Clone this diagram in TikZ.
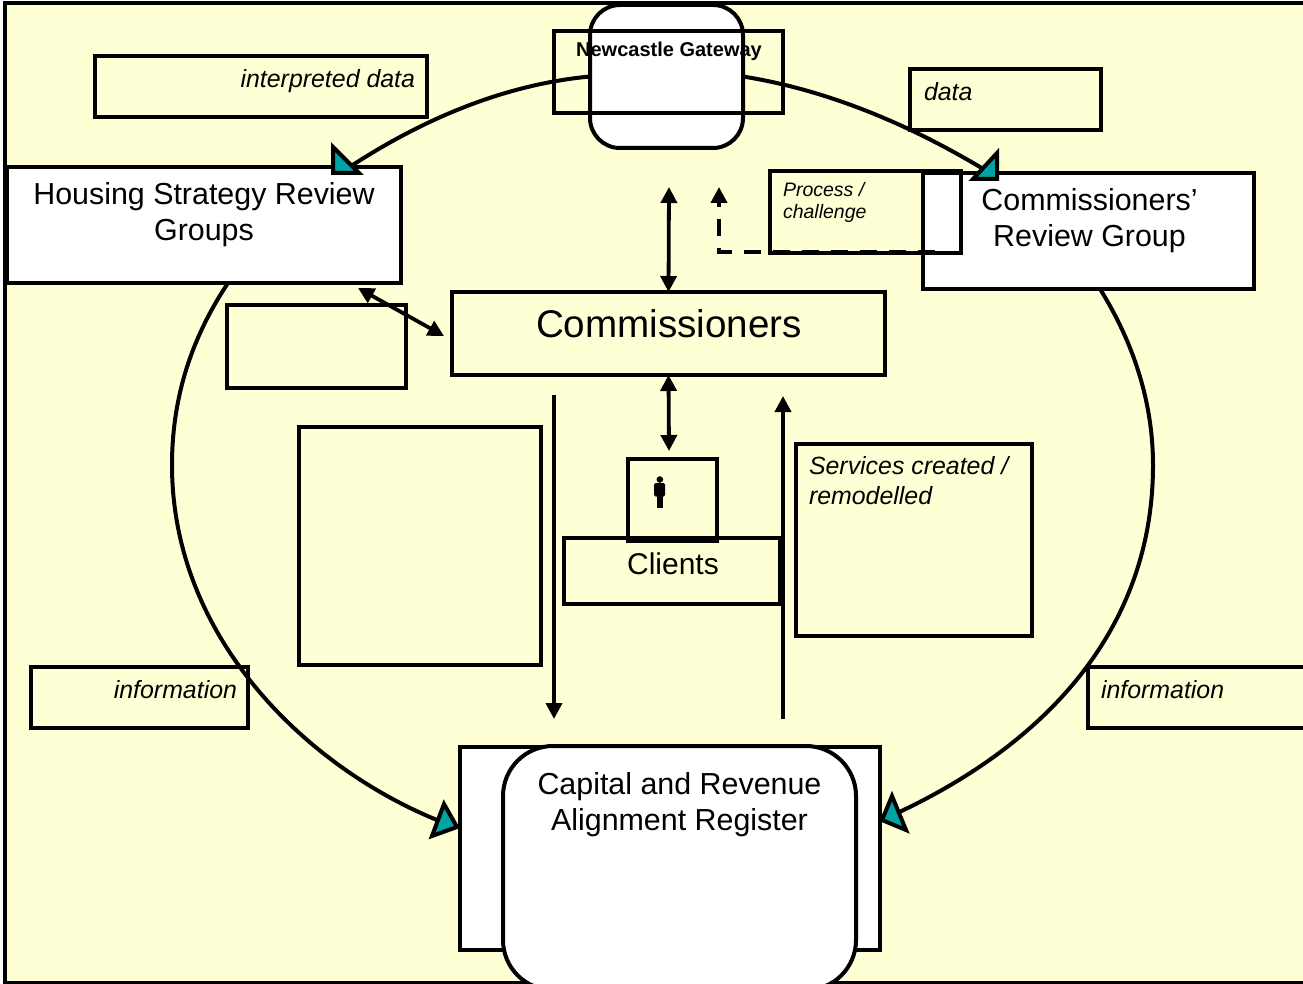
\documentclass[tikz,border=0pt]{standalone}
\usepackage{fontspec}
\setmainfont{Liberation Sans}
\usetikzlibrary{arrows.meta}
\definecolor{paper}{HTML}{FFFFD5}
\definecolor{tealfill}{HTML}{00A3A3}
\newcommand\bx[6]{%
  \pgfmathsetmacro\bw{#5-#3}\pgfmathsetmacro\bh{#6-#4}%
  \pgfmathsetmacro\cx{(#3+#5)/2}\pgfmathsetmacro\cy{(#4+#6)/2}%
  \node[boxline,#1,minimum width=\bw pt,minimum height=\bh pt] (#2) at (\cx,\cy) {};}
\tikzset{
  boxline/.style={draw=black,line width=4pt,rectangle,inner sep=0pt,outer sep=0pt},
  whitebox/.style={fill=white},
  roundbox/.style={fill=white,rounded corners=#1},
  lab/.style={inner sep=0pt,outer sep=0pt,text=black},
  big/.style={font=\fontsize{30.4}{36}\selectfont},
  mid/.style={font=\fontsize{24.9}{30}\selectfont\itshape},
  small/.style={font=\fontsize{19.5}{22}\selectfont\itshape},
  curve/.style={draw=black,line width=4pt},
  headtri/.style={draw=black,fill=tealfill,line width=4pt,line join=miter},
  arrowline/.style={draw=black,line width=3.8pt},
  bigtip/.style={-{Triangle[length=16pt,width=16pt]}},
  bothtip/.style={{Triangle[length=16pt,width=16pt]}-{Triangle[length=16pt,width=16pt]}},
}
\begin{document}
\begin{tikzpicture}[x=1pt,y=-1pt]
\useasboundingbox (0,0) rectangle (1303,984);
\bx{fill=paper}{frame}{5}{3}{1320}{983}
% boxes
\bx{}{interp}{95}{56}{427}{117}
\bx{}{databox}{910}{69}{1101}{130}
\bx{roundbox=30pt}{gwround}{590}{5}{743}{148}
\bx{}{gwrect}{554}{31}{783}{113}
\bx{whitebox}{hsrg}{7}{167}{401}{283}
\bx{whitebox}{crg}{923}{173}{1254}{289}
\bx{}{procbox}{770}{171}{961}{253}
\bx{}{comm}{452}{292}{885}{375}
\bx{}{emptya}{227}{305}{406}{388}
\bx{}{emptyb}{299}{427}{541}{665}
\bx{}{services}{796}{444}{1032}{636}
\bx{}{clients}{564}{538}{780}{604}
\bx{}{personbox}{628}{459}{717}{541}
\bx{}{infol}{31}{667}{248}{728}
\bx{}{infor}{1088}{667}{1320}{728}
\bx{whitebox}{carrect}{460}{747}{880}{950}
\bx{roundbox=50pt}{carround}{503}{746}{856}{990}
% texts
\node[lab,mid,anchor=base east] (t1) at (415,88) {interpreted data};
\node[lab,mid,anchor=base west] (t2) at (924,101) {data};
\node[lab,font=\fontsize{20}{24}\selectfont\bfseries,anchor=center] (t3) at (669,51) {Newcastle Gateway};
\node[lab,big,align=center,anchor=center] (t4) at (204,214.5) {Housing Strategy Review\\Groups};
\node[lab,big,align=center,anchor=center] (t5) at (1089.5,220.5) {Commissioners’\\Review Group};
\node[lab,small,align=left,anchor=north west] (t6) at (783,182.5) {Process /\\challenge};
\node[lab,font=\fontsize{38.6}{44}\selectfont,anchor=center] (t7) at (669,323.5) {Commissioners};
\node[lab,mid,align=left,anchor=north west] (t8) at (809,456) {Services created /\\remodelled};
\node[lab,font=\fontsize{30}{36}\selectfont,anchor=center] (t9) at (673,564) {Clients};
\node[lab,mid,anchor=base east] (t10) at (237,698) {information};
\node[lab,mid,anchor=base west] (t11) at (1101,698) {information};
\node[lab,big,align=center,anchor=center] (t12) at (679.5,805) {Capital and Revenue\\Alignment Register};
% person icon
\fill[black] (659.8,479.5) circle (3.3);
\fill[black,rounded corners=1.5pt] (654.2,483) rectangle (665.2,496.5);
\fill[black] (657,490) rectangle (659.5,508);
\fill[black] (660.3,490) rectangle (662.8,508);
% named ends
\coordinate (tipa) at (345,170);
\coordinate (tipb) at (985,170);
\coordinate (tipc) at (442,822);
\coordinate (tipd) at (893,815);
\coordinate (sl) at (228,283);
\coordinate (sr) at (1100,289);
\coordinate (ml) at (172,465);
\coordinate (mr) at (1153,465);
% ring
\draw[curve] (gwround.west) .. controls (510,84) and (428,115) .. (tipa);
\draw[curve] (gwround.east) .. controls (821,89) and (902,120) .. (tipb);
\draw[curve] (sl) .. controls (190,340) and (172,400) .. (ml) .. controls (172,640) and (310,770) .. (tipc);
\draw[curve] (sr) .. controls (1135,345) and (1153,405) .. (mr) .. controls (1153,630) and (1045,745) .. (tipd);
% teal heads
\draw[headtri] (333,147) -- (359,173) -- (333,173) -- cycle;
\draw[headtri] (997,153) -- (973,179) -- (997,179) -- cycle;
\draw[headtri] (444,804) -- (457,827) -- (432,836) -- cycle;
\draw[headtri] (892,796) -- (882,820) -- (906,830) -- cycle;
% arrows
\coordinate (upa) at (669,187);
\coordinate (upb) at (719,187);
\coordinate (dashstart) at (935,252);
\coordinate (downs) at (554,395);
\coordinate (downe) at (554,719);
\coordinate (ups) at (783,719);
\coordinate (upe) at (783,396);
\coordinate (dbla) at (358,288);
\coordinate (dblb) at (444,336);
\coordinate (clienttop) at (669,451);
\draw[arrowline,bothtip] (upa) -- (comm.north);
\draw[arrowline,bothtip] (comm.south) -- (clienttop);
\draw[arrowline,bigtip] (downs) -- (downe);
\draw[arrowline,bigtip] (ups) -- (upe);
\draw[arrowline,bothtip] (dbla) -- (dblb);
\draw[arrowline,bigtip,dash pattern=on 17pt off 12pt] (dashstart) -| (upb);
\end{tikzpicture}
\end{document}
